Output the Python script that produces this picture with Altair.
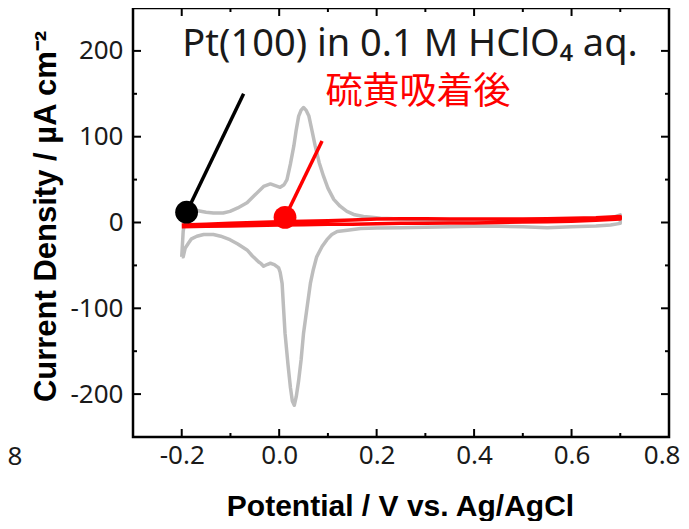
import altair as alt
import pandas as pd

# ---------------- data ----------------
# clean Pt(100) CV (grey): anodic sweep then cathodic sweep
gray_up_x = [-0.200, -0.197, -0.192, -0.185, -0.169, -0.150, -0.135, -0.115, -0.101, -0.085,
             -0.066, -0.050, -0.032, -0.018, -0.008, 0.002, 0.010, 0.016, 0.023, 0.030,
             0.035, 0.040, 0.045, 0.050, 0.055, 0.061, 0.067, 0.074, 0.082, 0.091,
             0.100, 0.112, 0.125, 0.139, 0.155, 0.173, 0.190, 0.208, 0.25, 0.30,
             0.35, 0.40, 0.45, 0.50, 0.55, 0.60, 0.65, 0.68, 0.70]
gray_up_y = [-40, -10, 6, 12, 14, 12, 11, 11, 13, 17,
             23, 32, 42, 45, 43, 41, 44, 50, 68, 89,
             108, 124, 131, 134, 131, 124, 108, 89, 70, 54,
             40, 27, 19, 13, 9, 7, 6, 5, 4, 3,
             3, 3, 3, 3, 3, 3.5, 4, 5, 9]
gray_dn_x = [0.70, 0.68, 0.65, 0.60, 0.55, 0.50, 0.45, 0.40, 0.35, 0.30,
             0.25, 0.20, 0.167, 0.140, 0.119, 0.108, 0.098, 0.088, 0.077, 0.070,
             0.064, 0.057, 0.050, 0.045, 0.040, 0.035, 0.031, 0.027, 0.023, 0.018,
             0.012, 0.009, 0.006, 0.002, -0.001, -0.010, -0.018, -0.025, -0.032, -0.037,
             -0.042, -0.055, -0.066, -0.085, -0.101, -0.120, -0.135, -0.155, -0.169, -0.180,
             -0.186, -0.193, -0.197, -0.200]
gray_dn_y = [-1, -3, -4, -5, -6, -5, -4.5, -4.5, -5, -5.5,
             -6, -6.5, -7, -9, -10.5, -14, -20, -28, -40, -55,
             -71, -100, -129, -160, -184, -203, -213, -208, -192, -165,
             -129, -100, -71, -58, -53, -49, -47.5, -49, -51, -48,
             -46, -39, -32, -25, -20, -16, -14, -14, -16, -19,
             -24, -30, -40, -40]

# after sulfur adsorption (red)
red_up_x = [-0.200, -0.15, -0.10, -0.05, 0.0, 0.05, 0.10, 0.15, 0.20, 0.25,
            0.30, 0.35, 0.40, 0.45, 0.50, 0.55, 0.60, 0.65, 0.70]
red_up_y = [-3, -2, -1, 0, 1, 1.5, 2, 3, 4, 4.5,
            4.5, 4, 4, 4, 4.2, 4.5, 5, 5.5, 7]
red_dn_x = [0.70, 0.65, 0.60, 0.55, 0.50, 0.45, 0.40, 0.35, 0.30, 0.25,
            0.20, 0.15, 0.10, 0.05, 0.0, -0.05, -0.10, -0.15, -0.200]
red_dn_y = [4, 2.5, 1.5, 1, 0.5, 0, -0.5, -0.5, -1, -1,
            -1.5, -2, -2, -2.5, -3, -3.5, -4, -4.5, -5]

# marker dots and their pointer lines: (x, y) -> (x2, y2)
pointer_x = [-0.190, 0.012]
pointer_y = [12, 6]
pointer_x2 = [-0.073, 0.088]
pointer_y2 = [150, 95]
pointer_color = ["black", "red"]

x_major = [-0.2, 0.0, 0.2, 0.4, 0.6, 0.8]
x_minor = [-0.1, 0.1, 0.3, 0.5, 0.7]
y_major = [-200, -100, 0, 100, 200]
y_minor = [-150, -50, 50, 150]

title_text = "Pt(100) in 0.1 M HClO₄ aq."
note_text = "硫黄吸着後"
x_title = "Potential / V vs. Ag/AgCl"
y_title = "Current Density / µA cm⁻²"

# ---------------- chart ----------------
W, H = 536, 429
xs = alt.Scale(domain=[-0.3, 0.8], nice=False, zero=False)
ys = alt.Scale(domain=[-250, 250], nice=False, zero=False)

gx = gray_up_x + gray_dn_x
gy = gray_up_y + gray_dn_y
gray_df = pd.DataFrame({"x": gx, "y": gy, "i": list(range(len(gx)))})
rx = red_up_x + red_dn_x
ry = red_up_y + red_dn_y
red_df = pd.DataFrame({"x": rx, "y": ry, "i": list(range(len(rx)))})

lab_font = "Noto Sans"
neg_fmt_x = "datum.value < 0 ? '-' + format(-datum.value, '.1f') : format(datum.value, '.1f')"
neg_fmt_y = "datum.value < 0 ? '-' + format(-datum.value, 'd') : format(datum.value, 'd')"

x_axis = alt.Axis(
    values=x_major, labelExpr=neg_fmt_x, ticks=False, tickSize=0, domain=False, grid=False,
    labelFont=lab_font, labelFontSize=26, labelColor="#1a1a1a", labelPadding=5,
    labelOverlap=False, labelFlush=True, labelFlushOffset=11, labelBound=False,
    title=x_title, titleFont="Liberation Sans", titleFontSize=30, titleFontWeight="bold",
    titleColor="black", titleX=267, titleY=78, titleBaseline="alphabetic", titleAlign="center")
y_axis = alt.Axis(
    values=y_major, labelExpr=neg_fmt_y, ticks=False, tickSize=0, domain=False, grid=False,
    labelFont=lab_font, labelFontSize=26, labelColor="#1a1a1a", labelPadding=10,
    labelOverlap=False, labelFlush=False, labelBound=False,
    title=y_title, titleFont="Liberation Sans", titleFontSize=31, titleFontWeight="bold",
    titleColor="black", titleAngle=270, titleX=-78, titleY=208, titleBaseline="alphabetic",
    titleAlign="center")

X = lambda f: alt.X(f, scale=xs, axis=x_axis)
Y = lambda f: alt.Y(f, scale=ys, axis=y_axis)

gray = alt.Chart(gray_df).mark_line(color="#bdbdbd", strokeWidth=3.5, strokeJoin="round").encode(
    x=X("x:Q"), y=Y("y:Q"), order="i:Q")

red = alt.Chart(red_df).mark_line(color="#ff0000", strokeWidth=3.5, strokeJoin="round").encode(
    x=X("x:Q"), y=Y("y:Q"), order="i:Q")

ptr_df = pd.DataFrame({"x": pointer_x, "y": pointer_y, "x2": pointer_x2, "y2": pointer_y2,
                       "c": pointer_color})
ptr_lines = alt.Chart(ptr_df).mark_rule(strokeWidth=3.5).encode(
    x=X("x:Q"), y=Y("y:Q"), x2="x2:Q", y2="y2:Q",
    color=alt.Color("c:N", scale=None))
ptr_dots = alt.Chart(ptr_df).mark_circle(size=520, opacity=1).encode(
    x=X("x:Q"), y=Y("y:Q"), color=alt.Color("c:N", scale=None))

# inward ticks on all four sides
def xticks(vals, L):
    d = pd.DataFrame({"x": vals})
    b = alt.Chart(d).mark_rule(color="black", strokeWidth=2).encode(
        x=X("x:Q"), y=alt.value(H), y2=alt.value(H - L))
    t = alt.Chart(d).mark_rule(color="black", strokeWidth=2).encode(
        x=X("x:Q"), y=alt.value(0), y2=alt.value(L))
    return b + t

def yticks(vals, L):
    d = pd.DataFrame({"y": vals})
    l = alt.Chart(d).mark_rule(color="black", strokeWidth=2).encode(
        y=Y("y:Q"), x=alt.value(0), x2=alt.value(L))
    r = alt.Chart(d).mark_rule(color="black", strokeWidth=2).encode(
        y=Y("y:Q"), x=alt.value(W), x2=alt.value(W - L))
    return l + r

ticks = xticks(x_major, 8) + xticks(x_minor, 4) + yticks(y_major, 8) + yticks(y_minor, 4)

title = alt.Chart(pd.DataFrame({"t": [title_text]})).mark_text(
    font="Noto Sans", fontSize=38, color="#1a1a1a", align="center", baseline="alphabetic").encode(
    text="t:N", x=alt.value(277), y=alt.value(48))
note = alt.Chart(pd.DataFrame({"t": [note_text]})).mark_text(
    font="Noto Sans CJK JP", fontSize=37, color="#ff0000", align="center", baseline="middle").encode(
    text="t:N", x=alt.value(285), y=alt.value(85))
stray = alt.Chart(pd.DataFrame({"t": ["8"]})).mark_text(
    font=lab_font, fontSize=26, color="#1a1a1a", align="center", baseline="middle").encode(
    text="t:N", x=alt.value(-118), y=alt.value(449))

chart = alt.layer(gray, red, ptr_lines, ptr_dots, ticks, title, note, stray).properties(
    width=W, height=H,
    background="white",
    autosize=alt.AutoSizeParams(type="none"),
    padding={"left": 125, "top": 0, "right": 12, "bottom": 84},
).configure_view(stroke="black", strokeWidth=2.5)

chart.save("out.html", embed_options={"renderer": "svg", "actions": False})
